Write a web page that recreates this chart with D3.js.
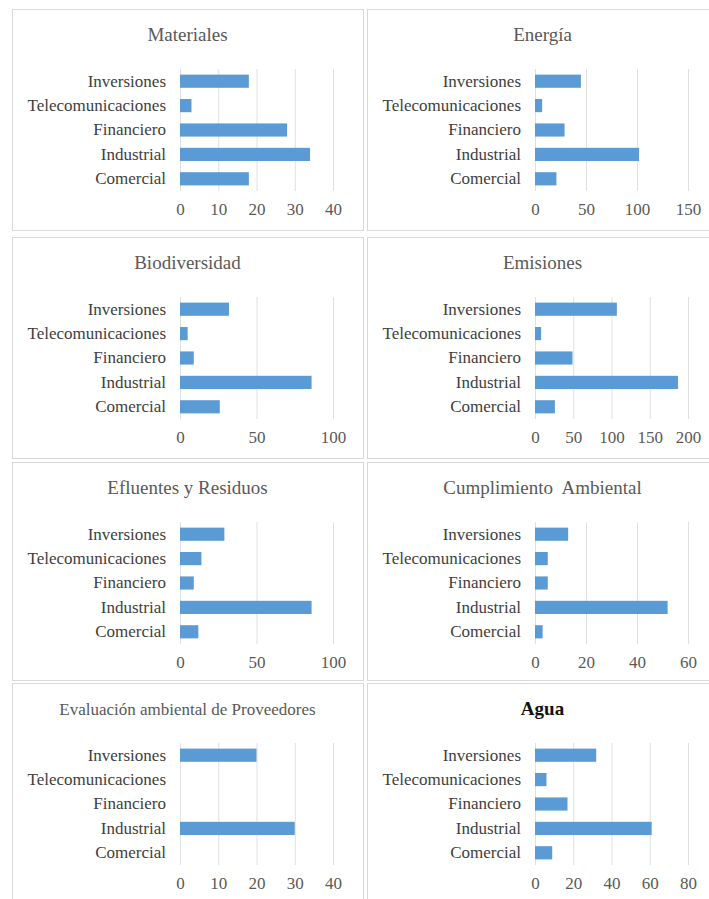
<!DOCTYPE html>
<meta charset="utf-8">
<head>
	<script type="text/javascript" src="https://cdn.jsdelivr.net/npm/d3@7"></script>
	<style>
		body { margin: 0; background: #fff; }
		text { font-family: "Liberation Serif", "Times New Roman", serif; }
	</style>
</head>
<body>
	<svg id="chart" width="709" height="899"></svg>
</body>
<script type="text/javascript">
	// categories, top to bottom
	var categories = ["Inversiones", "Telecomunicaciones", "Financiero", "Industrial", "Comercial"];

	// values per panel (same order as categories)
	var materiales = [18, 3, 28, 34, 18];
	var energia = [45, 7, 29, 102, 21];
	var biodiversidad = [32, 5, 9, 86, 26];
	var emisiones = [107, 8, 49, 187, 26];
	var efluentes = [29, 14, 9, 86, 12];
	var cumplimiento = [13, 5, 5, 52, 3];
	var evaluacion = [20, 0, 0, 30, 0];
	var agua = [32, 6, 17, 61, 9];

	// tick labels per panel
	var materialesTicks = [0, 10, 20, 30, 40];
	var energiaTicks = [0, 50, 100, 150];
	var biodiversidadTicks = [0, 50, 100];
	var emisionesTicks = [0, 50, 100, 150, 200];
	var efluentesTicks = [0, 50, 100];
	var cumplimientoTicks = [0, 20, 40, 60];
	var evaluacionTicks = [0, 10, 20, 30, 40];
	var aguaTicks = [0, 20, 40, 60, 80];

	var titles = ["Materiales", "Energía", "Biodiversidad", "Emisiones",
		"Efluentes y Residuos", "Cumplimiento  Ambiental",
		"Evaluación ambiental de Proveedores", "Agua"];

	var panels = [
		{title: titles[0], values: materiales, ticks: materialesTicks},
		{title: titles[1], values: energia, ticks: energiaTicks},
		{title: titles[2], values: biodiversidad, ticks: biodiversidadTicks},
		{title: titles[3], values: emisiones, ticks: emisionesTicks},
		{title: titles[4], values: efluentes, ticks: efluentesTicks},
		{title: titles[5], values: cumplimiento, ticks: cumplimientoTicks},
		{title: titles[6], values: evaluacion, ticks: evaluacionTicks, titleSize: 17},
		{title: titles[7], values: agua, ticks: aguaTicks, titleSize: 19, titleColor: "#111", titleWeight: "bold"}
	];

	// layout
	var colX = [12, 367];
	var panelW = 351;
	var rowY = [9, 237, 462, 683];
	var rowH = [221, 221, 218, 221];
	var plotLeft = 168;   // offset from panel left to value 0
	var plotW = 153;
	var gridTop = 60, gridBottom = 182;

	var svg = d3.select('#chart');

	panels.forEach(function(p, i){
		var col = i % 2, row = Math.floor(i / 2);
		var g = svg.append('g')
			.attr('transform', 'translate(' + colX[col] + ',' + rowY[row] + ')');

		g.append('rect')
			.attr('x', 0.5).attr('y', 0.5)
			.attr('width', panelW).attr('height', rowH[row])
			.attr('fill', '#fff')
			.attr('stroke', '#d9d9d9');

		g.append('text')
			.attr('x', panelW / 2).attr('y', 32)
			.attr('text-anchor', 'middle')
			.style('white-space', 'pre')
			.style('font-size', (p.titleSize || 19) + 'px')
			.style('font-weight', p.titleWeight || 'normal')
			.attr('fill', p.titleColor || '#595959')
			.text(p.title);

		var x = d3.scaleLinear()
			.domain([0, d3.max(p.ticks)])
			.range([plotLeft, plotLeft + plotW]);
		var y = d3.scaleBand()
			.domain(categories)
			.range([gridTop, gridBottom])
			.paddingInner(0.46)
			.paddingOuter(0.23);

		// gridlines
		g.selectAll('.grid')
			.data(p.ticks)
			.enter().append('line')
			.attr('x1', function(d){ return x(d) + 0.5; })
			.attr('x2', function(d){ return x(d) + 0.5; })
			.attr('y1', gridTop).attr('y2', gridBottom)
			.attr('stroke', '#e0e0e0');

		// bars
		g.selectAll('.bar')
			.data(p.values)
			.enter().append('rect')
			.attr('x', x(0))
			.attr('y', function(d, j){ return y(categories[j]); })
			.attr('width', function(d){ return x(d) - x(0); })
			.attr('height', y.bandwidth())
			.attr('fill', '#5b9bd5');

		// value axis
		var xa = g.append('g')
			.attr('transform', 'translate(0,186)')
			.call(d3.axisBottom(x).tickValues(p.ticks).tickSize(0).tickPadding(8));
		xa.select('.domain').remove();
		xa.selectAll('text')
			.style('font-size', '17px')
			.style('font-family', '"Liberation Serif", serif')
			.attr('fill', '#595959');

		// category axis
		var ya = g.append('g')
			.attr('transform', 'translate(' + plotLeft + ',0)')
			.call(d3.axisLeft(y).tickSize(0).tickPadding(14));
		ya.select('.domain').remove();
		ya.selectAll('text')
			.style('font-size', '17px')
			.style('font-family', '"Liberation Serif", serif')
			.attr('fill', '#404040');
	});
</script>
